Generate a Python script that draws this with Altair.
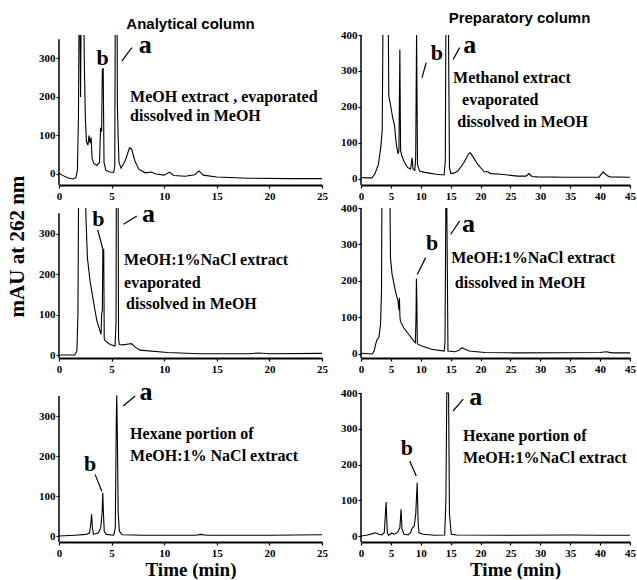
import altair as alt
import pandas as pd

SERIF = "Liberation Serif"
SANS = "Liberation Sans"

# ---------------- traces (time in min, absorbance in mAU) ----------------
TL_T = [0, 0.3, 0.8, 1.3, 1.6, 1.75, 1.85, 1.95, 2.05, 2.15, 2.3, 2.4, 2.5, 2.6, 2.75, 2.85, 2.95, 3.05, 3.15, 3.3,
        3.6, 3.85, 3.95, 4.05, 4.12, 4.2, 4.28, 4.45, 4.8, 5.2, 5.3, 5.37, 5.5, 5.55, 5.62, 5.7, 5.9, 6.3, 6.7, 6.9,
        7.2, 7.6, 8.2, 8.8, 9.2, 10.0, 10.5, 10.9, 12.0, 12.9, 13.3, 13.7, 15, 18, 22, 25]
TL_V = [2, -3, -10, -13, -10, 10, 150, 600, 200, 600, 600, 300, 150, 85, 75, 100, 80, 95, 40, 28,
        22, 30, 120, 110, 270, 275, 30, 10, 5, 4, 20, 600, 600, 180, 100, 30, 15, 35, 68, 65,
        35, 12, 3, 5, 0, -3, 5, -4, -6, -2, 8, -3, -8, -11, -12, -12]

TR_T = [0, 1.0, 1.8, 2.3, 2.9, 3.3, 3.55, 3.75, 4.5, 4.65, 5.0, 5.3, 5.6, 5.9, 6.2, 6.35, 6.5, 6.62, 6.8, 7.3,
        7.8, 8.3, 8.55, 8.7, 9.0, 9.15, 9.3, 9.45, 9.8, 10.5, 11.2, 12.5, 13.9, 14.1, 14.25, 14.55, 14.8, 15.05,
        15.6, 16.2, 17.2, 18.0, 18.3, 18.8, 19.5, 20.6, 21.2, 21.7, 23.4, 26.2, 27.6, 28.1, 28.6, 29.5, 34.5,
        39.8, 40.5, 41.2, 41.7, 45]
TR_V = [4, 3, 3, 13, 40, 87, 135, 600, 600, 230, 200, 170, 150, 97, 70, 80, 360, 80, 65, 45,
        32, 28, 59, 28, 24, 60, 410, 40, 22, 19, 17, 13, 11, 50, 600, 600, 31, 15,
        17, 22, 45, 70, 73, 60, 41, 20, 20, 15, 13, 8, 8, 15, 7, 6, 5,
        5, 20, 9, 6, 5]

ML_T = [0, 1.5, 1.7, 1.8, 1.9, 2.45, 2.55, 2.7, 2.95, 3.27, 3.6, 3.9, 4.0, 4.05, 4.12, 4.17, 4.25, 4.3, 4.4,
        4.86, 5.33, 5.42, 5.47, 5.6, 5.66, 5.74, 6.1, 6.6, 6.9, 7.2, 7.7, 10.3, 13.4, 18, 19, 20, 25]
ML_V = [0, 0, 10, 100, 600, 600, 350, 240, 183, 133, 84, 59, 51, 100, 110, 261, 261, 40, 35,
        26, 22, 80, 600, 600, 40, 26, 25, 27, 28, 20, 12, 6, 3, 3, 5, 3, 4]

MR_T = [0, 1.9, 2.2, 2.5, 2.7, 3.0, 3.27, 3.43, 3.55, 4.75, 4.93, 5.2, 5.76, 6.2, 6.35, 6.43, 6.52, 6.6, 7.14,
        7.97, 8.8, 9.1, 9.2, 9.27, 9.34, 9.42, 9.5, 10.2, 11.8, 13.9, 14.05, 14.2, 14.35, 14.55, 15.7, 16.4,
        16.9, 17.5, 18.1, 20.7, 26, 40, 41, 42, 45]
MR_V = [2, 0, 8, 30, 40, 45, 81, 172, 600, 600, 264, 218, 172, 145, 120, 154, 100, 90, 72,
        54, 36, 31, 100, 207, 150, 30, 27, 22, 13, 8, 30, 420, 420, 8, 6, 10,
        17, 12, 8, 4, 3, 4, 6, 3, 3]

BL_T = [0, 1.5, 2.6, 2.9, 3.02, 3.1, 3.18, 3.27, 3.75, 3.97, 4.1, 4.16, 4.22, 4.3, 4.5, 5.2, 5.35, 5.45, 5.49,
        5.55, 5.62, 5.74, 6.0, 8, 13, 13.5, 14, 20, 25]
BL_V = [0, 2, 4, 8, 30, 54, 20, 4, 8, 21, 60, 108, 60, 12, 4, 2, 20, 300, 352,
        250, 60, 12, 3, 2, 2, 4, 2, 2, 3]

BR_T = [0, 0.9, 1.8, 2.4, 3.0, 3.5, 3.9, 4.2, 4.4, 4.6, 5.1, 5.6, 6.1, 6.5, 6.7, 6.85, 7.2, 7.9, 8.3, 8.6,
        8.9, 9.15, 9.4, 9.55, 9.7, 10.4, 12.3, 14.0, 14.2, 14.35, 14.65, 14.8, 15.1, 16, 25, 35, 40, 45]
BR_V = [0, 2, 6, 9, 5, 3, 10, 95, 10, 2, 8, 5, 10, 23, 75, 20, 5, 3, 10, 23,
        28, 60, 149, 40, 9, 5, 2, 3, 100, 400, 400, 60, 5, 3, 2, 3, 2, 2]

# ---------------- annotations ----------------
TL_A = [(8.19, 334)]
TL_B = [(4.14, 300)]
TL_NOTES = [("MeOH extract , evaporated", 6.76, 200), ("dissolved in MeOH", 6.76, 150)]
TL_LEAD = [(5.97, 293, 6.92, 328)]

TR_A = [(18.2, 372)]
TR_B = [(12.7, 349)]
TR_NOTES = [("Methanol extract", 15.4, 281), ("evaporated", 16.9, 219), ("dissolved in MeOH", 16.1, 158)]
TR_LEAD = [(10.2, 281, 10.9, 323), (15.4, 332, 16.5, 365)]

ML_A = [(8.5, 348)]
ML_B = [(3.74, 336)]
ML_NOTES = [("MeOH:1%NaCl extract", 6.19, 234), ("evaporated", 6.19, 178), ("dissolved in MeOH", 6.38, 125)]
ML_LEAD = [(3.68, 309, 4.16, 262), (6.12, 323, 7.4, 343)]

MR_A = [(17.98, 357)]
MR_B = [(11.9, 305)]
MR_NOTES = [("MeOH:1%NaCl extract", 15.1, 263), ("dissolved in MeOH", 15.7, 195)]
MR_LEAD = [(9.41, 218, 10.82, 264), (15.0, 328, 16.5, 364)]

BL_A = [(8.27, 360)]
BL_B = [(2.95, 181)]
BL_NOTES = [("Hexane portion of", 6.76, 254), ("MeOH:1% NaCl extract", 6.76, 201)]
BL_LEAD = [(3.43, 154, 4.07, 112), (6.1, 325, 7.24, 350)]

BR_A = [(19.2, 390)]
BR_B = [(7.66, 247)]
BR_NOTES = [("Hexane portion of", 17.06, 280), ("MeOH:1%NaCl extract", 17.06, 219)]
BR_LEAD = [(8.14, 210, 9.25, 168), (15.4, 350, 17.1, 383)]

LEFT_TICKS = [0, 100, 200, 300]
RIGHT_TICKS = [0, 100, 200, 300, 400]
LEFT_X = [0, 5, 10, 15, 20, 25]
RIGHT_X = [0, 5, 10, 15, 20, 25, 30, 35, 40, 45]


def panel(T, V, xmax, xvals, ylo, yhi, ytop, yvals, w, h, A, B, notes, leads,
          xextra=None, yextra=None, title=None):
    xax = dict(values=xvals, title=None, labelFont=SERIF, labelFontWeight="bold", labelFontSize=11,
               labelFlush=False, labelOverlap=False, tickSize=3, labelPadding=2, domainWidth=2,
               tickWidth=1.2, grid=False)
    if xextra:
        xax.update(xextra)
    yax = dict(values=yvals, title=None, labelFont=SERIF, labelFontWeight="bold", labelFontSize=11,
               labelFlush=False, labelOverlap=False, tickSize=3, labelPadding=1, domain=False,
               tickWidth=1.2, grid=False)
    if yextra:
        yax.update(yextra)
    x = alt.X("t:Q", scale=alt.Scale(domain=[0, xmax], nice=False, zero=False), axis=alt.Axis(**xax))
    y = alt.Y("v:Q", scale=alt.Scale(domain=[ylo, yhi], nice=False, zero=False), axis=alt.Axis(**yax))

    line = alt.Chart(pd.DataFrame({"t": T, "v": V})).mark_line(
        color="black", strokeWidth=1.1, clip=True).encode(x=x, y=y)
    yline = alt.Chart(pd.DataFrame({"t": [0], "v": [ylo], "v2": [ytop]})).mark_rule(
        color="black", strokeWidth=1.5).encode(x=x, y=y, y2="v2:Q")
    lead = alt.Chart(pd.DataFrame(leads, columns=["t", "v", "t2", "v2"])).mark_rule(
        color="black", strokeWidth=1.2).encode(x=x, y=y, x2="t2:Q", y2="v2:Q")
    ta = alt.Chart(pd.DataFrame([(t, v, "a") for t, v in A], columns=["t", "v", "s"])).mark_text(
        font=SERIF, fontWeight="bold", fontSize=26, color="black", align="center", baseline="middle"
    ).encode(x=x, y=y, text="s:N")
    tb = alt.Chart(pd.DataFrame([(t, v, "b") for t, v in B], columns=["t", "v", "s"])).mark_text(
        font=SERIF, fontWeight="bold", fontSize=22, color="black", align="center", baseline="middle"
    ).encode(x=x, y=y, text="s:N")
    tn = alt.Chart(pd.DataFrame(notes, columns=["s", "t", "v"])).mark_text(
        font=SERIF, fontWeight="bold", fontSize=16, color="black", align="left", baseline="middle"
    ).encode(x=x, y=y, text="s:N")
    props = dict(width=w, height=h)
    if title is not None:
        props["title"] = title
    return alt.layer(line, yline, lead, ta, tb, tn).properties(**props)


time_title = dict(title="Time (min)", titleFont=SERIF, titleFontWeight="bold", titleFontSize=19,
                  titlePadding=2, titleColor="black")

tl = panel(TL_T, TL_V, 25, LEFT_X, -28.6, 361, 350, LEFT_TICKS, 263, 150, TL_A, TL_B, TL_NOTES, TL_LEAD,
           title=alt.TitleParams("Analytical column", font=SANS, fontSize=15, fontWeight="bold",
                                 offset=0, anchor="middle", color="black"))
tr = panel(TR_T, TR_V, 45, RIGHT_X, -16.7, 400, 400, RIGHT_TICKS, 269, 150, TR_A, TR_B, TR_NOTES, TR_LEAD,
           title=alt.TitleParams("Preparatory column", font=SANS, fontSize=15, fontWeight="bold",
                                 offset=3, anchor="middle", dx=24, color="black"))
ml = panel(ML_T, ML_V, 25, LEFT_X, -7.4, 363, 350, LEFT_TICKS, 263, 150, ML_A, ML_B, ML_NOTES, ML_LEAD,
           yextra=dict(title="mAU at 262 nm", titleFont=SERIF, titleFontWeight="bold", titleFontSize=21,
                       titleAngle=270, titleX=-42, titleY=38, titleAlign="center", titleBaseline="middle",
                       titleColor="black"))
mr = panel(MR_T, MR_V, 45, RIGHT_X, -11, 400, 400, RIGHT_TICKS, 269, 150, MR_A, MR_B, MR_NOTES, MR_LEAD)
bl = panel(BL_T, BL_V, 25, LEFT_X, -15, 387.5, 350, LEFT_TICKS, 263, 161, BL_A, BL_B, BL_NOTES, BL_LEAD,
           xextra=dict(time_title))
br_extra = dict(time_title)
br_extra.update(titleX=154, titleAlign="center")
br = panel(BR_T, BR_V, 45, RIGHT_X, -16.8, 434, 400, RIGHT_TICKS, 269, 161, BR_A, BR_B, BR_NOTES, BR_LEAD,
           xextra=br_extra)

chart = alt.concat(
    tl, tr, ml, mr, bl, br, columns=2,
    spacing={"row": 23, "column": 39}, bounds="flush",
    padding={"left": 6, "top": 11, "right": 0, "bottom": 0},
    background="white",
).configure_view(strokeWidth=0).configure_axis(
    labelColor="black", tickColor="black", domainColor="black")

chart.save("out.html", embed_options={"renderer": "svg", "actions": False})
